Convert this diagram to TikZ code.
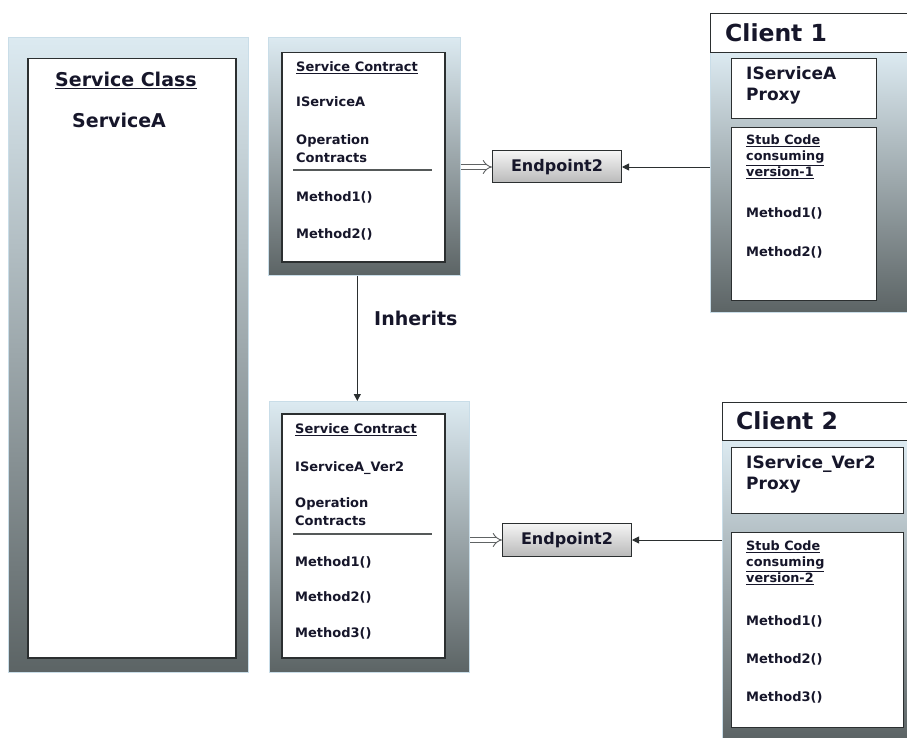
\documentclass[tikz,border=0pt]{standalone}
\usepackage{fontspec}
\setmainfont{DejaVu Sans}
\usetikzlibrary{arrows.meta}
\definecolor{panelTop}{HTML}{DCEAF1}
\definecolor{panelBot}{HTML}{5C6465}
\definecolor{panelEdge}{HTML}{C9DDE8}
\definecolor{ink}{HTML}{16162A}
\definecolor{frame}{HTML}{2B2F30}

\tikzset{
  panel/.style={draw=panelEdge, line width=0.6pt, top color=panelTop,
    bottom color=panelBot, anchor=north west, inner sep=0pt},
  whitebox/.style={draw=frame, line width=1.5pt, fill=white,
    anchor=north west, inner sep=0pt},
  header/.style={draw=frame, line width=1pt, fill=white,
    anchor=north west, inner sep=0pt},
  endpt/.style={draw=frame, line width=1pt, top color=gray!8,
    bottom color=gray!55, inner sep=0pt, minimum width=129pt,
    minimum height=32pt, text=ink,
    font=\bfseries\fontsize{16}{18}\selectfont},
  txt/.style={anchor=west, inner sep=0pt, text=ink, align=left,
    font=\bfseries\fontsize{13}{18}\selectfont},
  big/.style={txt, font=\bfseries\fontsize{19}{22}\selectfont},
  huge/.style={txt, font=\bfseries\fontsize{23.5}{26}\selectfont},
  proxy/.style={txt, font=\bfseries\fontsize{17}{21}\selectfont},
  stub/.style={txt, font=\bfseries\fontsize{12.8}{16}\selectfont},
  divider/.style={draw=frame!80, line width=1.2pt},
  arr/.style={draw=frame, line width=0.9pt,
    -{Triangle[length=7pt,width=7pt]}},
  dblarr/.style={draw=frame!75, double=white, double distance=4pt,
    line width=0.9pt, -{Implies}},
}

\begin{document}
\begin{tikzpicture}[x=1pt,y=-1pt]
\useasboundingbox (0,0) rectangle (907,738);
\fill[white] (0,0) rectangle (907,738);

% ---------- service class ----------
\node[panel, minimum width=240pt, minimum height=635pt] (scpanel) at (8,37) {};
\node[whitebox, minimum width=208pt, minimum height=599pt] (scbox) at (27,58) {};
\node[big] (sctitle) at (55,80) {\underline{Service Class}};
\node[big] (scname) at (72,120) {ServiceA};

% ---------- service contract 1 ----------
\node[panel, minimum width=192pt, minimum height=238pt] (c1panel) at (268,37) {};
\node[whitebox, minimum width=163pt, minimum height=209pt] (c1box) at (281,52) {};
\node[txt] (c1title) at (296,68) {\underline{Service Contract}};
\node[txt] (c1name) at (296,102) {IServiceA};
\node[txt] (c1ops) at (296,149) {Operation\\Contracts};
\coordinate (c1divL) at (293,170);
\coordinate (c1divR) at (432,170);
\draw[divider] (c1divL) -- (c1divR);
\node[txt] (c1m1) at (296,197) {Method1()};
\node[txt] (c1m2) at (296,234) {Method2()};

% ---------- service contract 2 ----------
\node[panel, minimum width=200pt, minimum height=271pt] (c2panel) at (269,401) {};
\node[whitebox, minimum width=163pt, minimum height=244pt] (c2box) at (281,413) {};
\node[txt] (c2title) at (295,430) {\underline{Service Contract}};
\node[txt] (c2name) at (295,468) {IServiceA\_Ver2};
\node[txt] (c2ops) at (295,512) {Operation\\Contracts};
\coordinate (c2divL) at (293,534);
\coordinate (c2divR) at (432,534);
\draw[divider] (c2divL) -- (c2divR);
\node[txt] (c2m1) at (295,562) {Method1()};
\node[txt] (c2m2) at (295,597) {Method2()};
\node[txt] (c2m3) at (295,633) {Method3()};

% ---------- endpoints ----------
\node[endpt] (ep1) at (557,167) {Endpoint2};
\node[endpt, minimum height=33pt] (ep2) at (567,540) {Endpoint2};

% ---------- client 1 ----------
\node[panel, minimum width=197pt, minimum height=260pt] (cl1panel) at (710,52) {};
\node[header, minimum width=197pt, minimum height=39pt] (cl1head) at (710,13) {};
\node[huge] (cl1title) at (725,33) {Client 1};
\node[whitebox, line width=1.1pt, minimum width=145pt, minimum height=60pt] (cl1proxy) at (731,58) {};
\node[proxy] (cl1ptext) at (746,85) {IServiceA\\Proxy};
\node[whitebox, line width=1.1pt, minimum width=145pt, minimum height=173pt] (cl1stub) at (731,127) {};
\node[stub] (cl1stext) at (746,157) {\underline{Stub Code}\\\underline{consuming}\\\underline{version-1}};
\node[txt] (cl1m1) at (746,213) {Method1()};
\node[txt] (cl1m2) at (746,252) {Method2()};

% ---------- client 2 ----------
\node[panel, minimum width=185pt, minimum height=298pt] (cl2panel) at (722,440) {};
\node[header, minimum width=185pt, minimum height=38pt] (cl2head) at (722,402) {};
\node[huge] (cl2title) at (736,421) {Client 2};
\node[whitebox, line width=1.1pt, minimum width=172pt, minimum height=66pt] (cl2proxy) at (731,447) {};
\node[proxy] (cl2ptext) at (746,474) {IService\_Ver2\\Proxy};
\node[whitebox, line width=1.1pt, minimum width=172pt, minimum height=195pt] (cl2stub) at (731,532) {};
\node[stub] (cl2stext) at (746,563) {\underline{Stub Code}\\\underline{consuming}\\\underline{version-2}};
\node[txt] (cl2m1) at (746,621) {Method1()};
\node[txt] (cl2m2) at (746,659) {Method2()};
\node[txt] (cl2m3) at (746,697) {Method3()};

% ---------- connectors ----------
\draw[dblarr] (ep1.west -| c1panel.east) -- (ep1.west);
\draw[dblarr] (ep2.west -| c2panel.east) -- (ep2.west);
\draw[arr] (ep1.east -| cl1panel.west) -- (ep1.east);
\draw[arr] (ep2.east -| cl2panel.west) -- (ep2.east);
\draw[arr] ([xshift=-7pt]c1panel.south) -- ([xshift=-7pt]c1panel.south |- c2panel.north);
\node[big] (inh) at (374,318) {Inherits};
\end{tikzpicture}
\end{document}
